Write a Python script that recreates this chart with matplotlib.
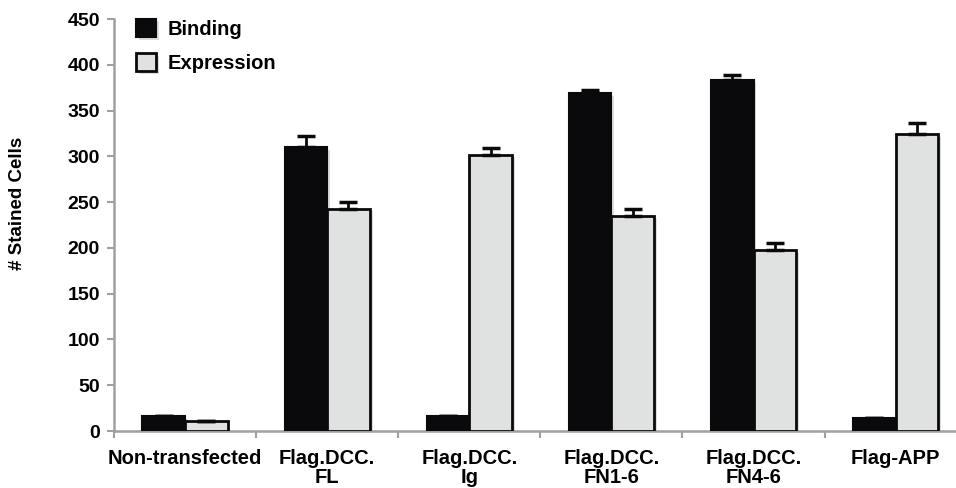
import matplotlib
matplotlib.use("Agg")
import matplotlib.pyplot as plt
import matplotlib.patheffects as pe
import numpy as np

categories = ["Non-transfected", "Flag.DCC.\nFL", "Flag.DCC.\nIg",
              "Flag.DCC.\nFN1-6", "Flag.DCC.\nFN4-6", "Flag-APP"]
binding = [16, 310, 16, 369, 384, 14]
binding_err = [0, 12, 0, 4, 4.5, 0]
expression = [11, 243, 302, 235, 198, 324]
expression_err = [0, 7, 7, 8, 7, 13]
y_ticks = [0, 50, 100, 150, 200, 250, 300, 350, 400, 450]

plt.rcParams['font.family'] = ['Liberation Sans', 'DejaVu Sans']
plt.rcParams['font.weight'] = 'bold'

fig = plt.figure(figsize=(9.56, 4.88), dpi=100)
ax = fig.add_axes([0.1192, 0.1168, 0.892, 0.844])

x = np.arange(len(categories))
w = 0.3
shadow = [pe.SimplePatchShadow(offset=(2, -2), alpha=0.2, shadow_rgbFace='0.35'), pe.Normal()]

b1 = ax.bar(x - w / 2, binding, w, color='#0a0a0c', edgecolor='#0a0a0c', linewidth=1.5,
            label='Binding', zorder=3)
b2 = ax.bar(x + w / 2, expression, w, color='#e0e1e1', edgecolor='#0a0a0c', linewidth=2,
            label='Expression', zorder=3)
for p in list(b1) + list(b2):
    p.set_path_effects(shadow)

ax.errorbar(x - w / 2, binding, yerr=[np.zeros(len(binding)), binding_err], fmt='none',
            ecolor='#0a0a0c', elinewidth=2, capsize=6.5, capthick=2.5, zorder=4)
ax.errorbar(x + w / 2, expression, yerr=[np.zeros(len(expression)), expression_err], fmt='none',
            ecolor='#0a0a0c', elinewidth=2, capsize=6.5, capthick=2.5, zorder=4)

ax.set_xlim(-0.5, len(categories) - 0.5)
ax.set_ylim(0, 450)
ax.set_yticks(y_ticks)
ax.set_yticklabels([str(t) for t in y_ticks], fontsize=14, fontweight='bold')

ax.set_xticks(np.arange(-0.5, len(categories), 1.0))
ax.set_xticklabels([])
ax.set_xticks(x, minor=True)
ax.set_xticklabels(categories, minor=True, fontsize=14.5, fontweight='bold', linespacing=1.0)
ax.tick_params(axis='x', which='minor', length=0, pad=13)
ax.tick_params(axis='x', which='major', direction='out', length=5, width=1.5, color='#a0a0a0')
ax.tick_params(axis='y', direction='out', length=5, width=1.5, color='#a0a0a0', pad=5)

for s in ['top', 'right']:
    ax.spines[s].set_visible(False)
for s in ['left', 'bottom']:
    ax.spines[s].set_color('#a0a0a0')
    ax.spines[s].set_linewidth(1.8)

ax.set_ylabel('# Stained Cells', fontsize=13.5, fontweight='bold')
ax.yaxis.set_label_coords(-0.103, 0.553)

leg = ax.legend(loc='upper left', bbox_to_anchor=(0.005, 1.045), frameon=False,
                handlelength=1.0, handleheight=1.0, handletextpad=0.55,
                labelspacing=0.7, prop={'weight': 'bold', 'size': 14.5})

fig.savefig('out.png', dpi=100)
